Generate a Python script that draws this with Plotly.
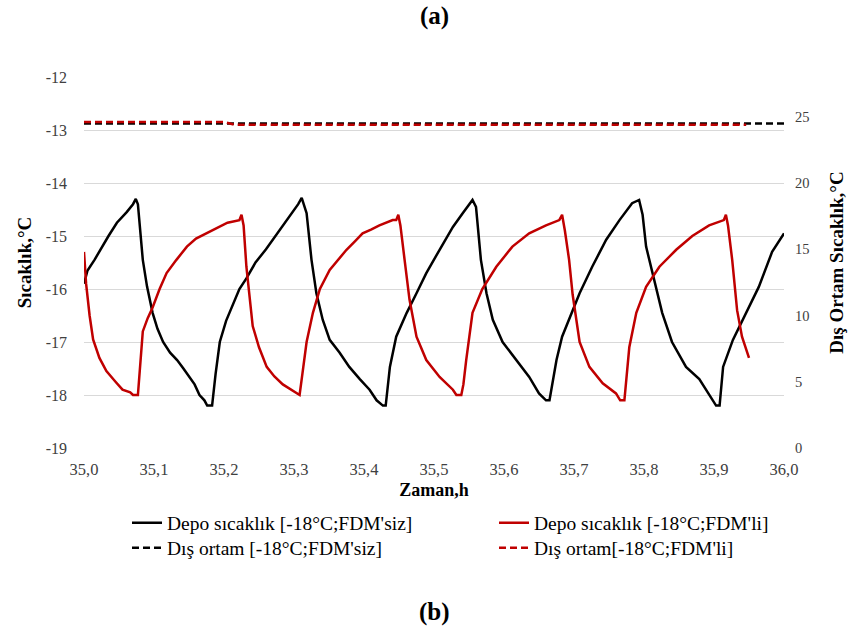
import plotly.graph_objects as go

# ---------------- data ----------------
black_t = [35.000, 35.005, 35.015, 35.023, 35.035, 35.047, 35.061, 35.070, 35.074,
           35.077, 35.080, 35.084, 35.090, 35.098, 35.105, 35.113, 35.123, 35.133, 35.142,
           35.151, 35.158, 35.165, 35.172, 35.176, 35.183,
           35.188, 35.194, 35.203, 35.212, 35.222, 35.232, 35.245, 35.260, 35.280, 35.295,
           35.306, 35.311,
           35.318, 35.325, 35.332, 35.341, 35.351, 35.365, 35.379, 35.394, 35.408, 35.418,
           35.427, 35.431,
           35.437, 35.446, 35.461, 35.475, 35.489, 35.508, 35.527, 35.541, 35.555,
           35.560, 35.567, 35.575, 35.584, 35.598, 35.617, 35.636, 35.650, 35.660, 35.665,
           35.675, 35.683, 35.693, 35.708, 35.726, 35.746, 35.765, 35.783, 35.793,
           35.798, 35.803, 35.812, 35.826, 35.840, 35.860, 35.879, 35.893, 35.903, 35.908,
           35.913, 35.927, 35.946, 35.964, 35.983, 36.000]
black_v = [-15.90, -15.65, -15.45, -15.26, -15.00, -14.75, -14.55, -14.40, -14.30,
           -14.40, -14.80, -15.45, -15.95, -16.45, -16.75, -17.00, -17.20, -17.34, -17.50,
           -17.66, -17.80, -18.00, -18.10, -18.20, -18.20,
           -17.60, -17.00, -16.60, -16.30, -16.00, -15.80, -15.50, -15.25, -14.89, -14.60,
           -14.40, -14.28,
           -14.57, -15.45, -16.08, -16.58, -16.96, -17.20, -17.47, -17.70, -17.90, -18.10,
           -18.20, -18.20,
           -17.47, -16.90, -16.45, -16.08, -15.70, -15.26, -14.83, -14.57, -14.32,
           -14.45, -15.45, -16.08, -16.58, -17.00, -17.34, -17.66, -17.97, -18.10, -18.10,
           -17.34, -16.90, -16.58, -16.08, -15.58, -15.07, -14.70, -14.38, -14.32,
           -14.60, -15.20, -15.70, -16.45, -17.00, -17.47, -17.70, -18.00, -18.20, -18.20,
           -17.47, -16.96, -16.45, -15.96, -15.30, -14.95]

red_t = [35.000, 35.003, 35.008, 35.013, 35.022, 35.032, 35.045, 35.055, 35.066, 35.070, 35.077,
         35.080, 35.084, 35.091, 35.098, 35.108, 35.118, 35.132, 35.147, 35.160, 35.175,
         35.190, 35.205, 35.222, 35.225,
         35.228, 35.232, 35.241, 35.250, 35.261, 35.272, 35.284, 35.296, 35.304, 35.308,
         35.312, 35.318, 35.327, 35.337, 35.351, 35.363, 35.375, 35.387, 35.398, 35.410,
         35.422, 35.441, 35.446, 35.449,
         35.452, 35.458, 35.465, 35.475, 35.489, 35.508, 35.527, 35.532, 35.539,
         35.542, 35.546, 35.555, 35.569, 35.589, 35.612, 35.636, 35.660, 35.679, 35.683,
         35.687, 35.693, 35.698, 35.708, 35.722, 35.741, 35.760, 35.766, 35.772,
         35.775, 35.779, 35.789, 35.803, 35.822, 35.846, 35.869, 35.893, 35.914, 35.917,
         35.920, 35.926, 35.933, 35.940, 35.950]
red_v = [-15.30, -15.90, -16.50, -16.95, -17.30, -17.55, -17.75, -17.90, -17.95, -18.00, -18.00,
         -17.40, -16.80, -16.55, -16.35, -16.00, -15.70, -15.45, -15.20, -15.05, -14.95,
         -14.85, -14.75, -14.70, -14.60,
         -14.80, -15.58, -16.70, -17.10, -17.47, -17.65, -17.80, -17.90, -17.95, -18.00,
         -17.60, -17.00, -16.45, -16.00, -15.64, -15.45, -15.26, -15.10, -14.95, -14.88,
         -14.80, -14.70, -14.70, -14.60,
         -14.80, -15.45, -16.20, -16.90, -17.34, -17.66, -17.90, -18.00, -18.00,
         -17.80, -17.34, -16.45, -16.00, -15.58, -15.20, -14.95, -14.80, -14.70, -14.60,
         -14.90, -15.45, -16.10, -17.00, -17.47, -17.78, -17.97, -18.10, -18.10,
         -17.70, -17.10, -16.45, -15.96, -15.58, -15.26, -15.00, -14.80, -14.70, -14.60,
         -14.80, -15.45, -16.40, -16.90, -17.30]

amb_black_t = [35.000, 36.000]
amb_black_v = [24.5, 24.5]
amb_red_t = [35.000, 35.200, 35.215, 35.946]
amb_red_v = [24.6, 24.6, 24.4, 24.4]

names = ["Depo sıcaklık [-18°C;FDM'siz]", "Depo sıcaklık [-18°C;FDM'li]",
         "Dış ortam [-18°C;FDM'siz]", "Dış ortam[-18°C;FDM'li]"]

x_ticks = [35.0, 35.1, 35.2, 35.3, 35.4, 35.5, 35.6, 35.7, 35.8, 35.9, 36.0]
x_tick_text = ["35,0", "35,1", "35,2", "35,3", "35,4", "35,5", "35,6", "35,7", "35,8", "35,9", "36,0"]
y_left_ticks = [-19, -18, -17, -16, -15, -14, -13, -12]
y_left_text = ["-19", "-18", "-17", "-16", "-15", "-14", "-13", "-12"]
y_right_ticks = [0, 5, 10, 15, 20, 25]

BLACK = "#000000"
RED = "#c00000"
FONT = "Times New Roman, Liberation Serif, serif"

plot_w = 848 - 84 - 64
plot_h = 640 - 77 - 192

fig = go.Figure()
fig.add_trace(go.Scatter(x=black_t, y=black_v, mode="lines", name=names[0],
                         line=dict(color=BLACK, width=2.5), yaxis="y", legend="legend"))
fig.add_trace(go.Scatter(x=red_t, y=red_v, mode="lines", name=names[1],
                         line=dict(color=RED, width=2.5), yaxis="y", legend="legend2"))
fig.add_trace(go.Scatter(x=amb_black_t, y=amb_black_v, mode="lines", name=names[2],
                         line=dict(color=BLACK, width=2.5, dash="7px,4px"), yaxis="y2",
                         legend="legend3"))
fig.add_trace(go.Scatter(x=amb_red_t, y=amb_red_v, mode="lines", name=names[3],
                         line=dict(color=RED, width=2.5, dash="7px,4px"), yaxis="y2",
                         legend="legend4"))

leg_common = dict(orientation="v", yanchor="middle", xanchor="left",
                  font=dict(family=FONT, size=19.5, color="#000000"),
                  itemwidth=30, tracegroupgap=0, bgcolor="rgba(0,0,0,0)",
                  borderwidth=0)
col_x = [(127 - 84) / plot_w, (494 - 84) / plot_w]
row_y = [-(523 - 448) / plot_h, -(548 - 448) / plot_h]

fig.update_layout(
    width=848, height=640,
    margin=dict(l=84, r=64, t=77, b=192, autoexpand=False),
    paper_bgcolor="white", plot_bgcolor="white",
    font=dict(family=FONT, color="#000000", size=15),
    showlegend=True,
    legend=dict(x=col_x[0], y=row_y[0], **leg_common),
    legend2=dict(x=col_x[1], y=row_y[0], **leg_common),
    legend3=dict(x=col_x[0], y=row_y[1], **leg_common),
    legend4=dict(x=col_x[1], y=row_y[1], **leg_common),
    xaxis=dict(range=[35.0, 36.0], tickvals=x_ticks, ticktext=x_tick_text,
               showgrid=False, zeroline=False, showline=False, ticks="",
               ticklabelstandoff=9, automargin=False,
               tickfont=dict(family=FONT, size=16.5, color="#404040"),
               title=dict(text="<b>Zaman,h</b>", standoff=5,
                          font=dict(family=FONT, size=18, color="#000000"))),
    yaxis=dict(range=[-19, -12], tickvals=y_left_ticks, ticktext=y_left_text, showgrid=True,
               gridcolor="#d9d9d9", gridwidth=1.3, zeroline=False, showline=False,
               ticks="", ticklabelstandoff=16, automargin=False,
               tickfont=dict(family=FONT, size=16, color="#404040"),
               title=dict(text="<b>Sıcaklık,°C</b>", standoff=9,
                          font=dict(family=FONT, size=19, color="#000000"))),
    yaxis2=dict(range=[0, 28], tickvals=y_right_ticks, overlaying="y", side="right",
                showgrid=False, zeroline=False, showline=False, ticks="",
                ticklabelstandoff=10, automargin=False,
                tickfont=dict(family=FONT, size=14.5, color="#404040"),
                title=dict(text="<b>Dış Ortam Sıcaklık,°C</b>", standoff=21,
                           font=dict(family=FONT, size=19, color="#000000"))),
)
fig.add_annotation(text="<b>(a)</b>", x=0.5, xref="paper", xanchor="center",
                   y=1 + (77 - 16) / plot_h, yref="paper", yanchor="middle",
                   showarrow=False, font=dict(family=FONT, size=25, color="#000000"))
fig.add_annotation(text="<b>(b)</b>", x=0.5, xref="paper", xanchor="center",
                   y=-(612 - 448) / plot_h, yref="paper", yanchor="middle",
                   showarrow=False, font=dict(family=FONT, size=25, color="#000000"))

fig.write_html("out.html")
